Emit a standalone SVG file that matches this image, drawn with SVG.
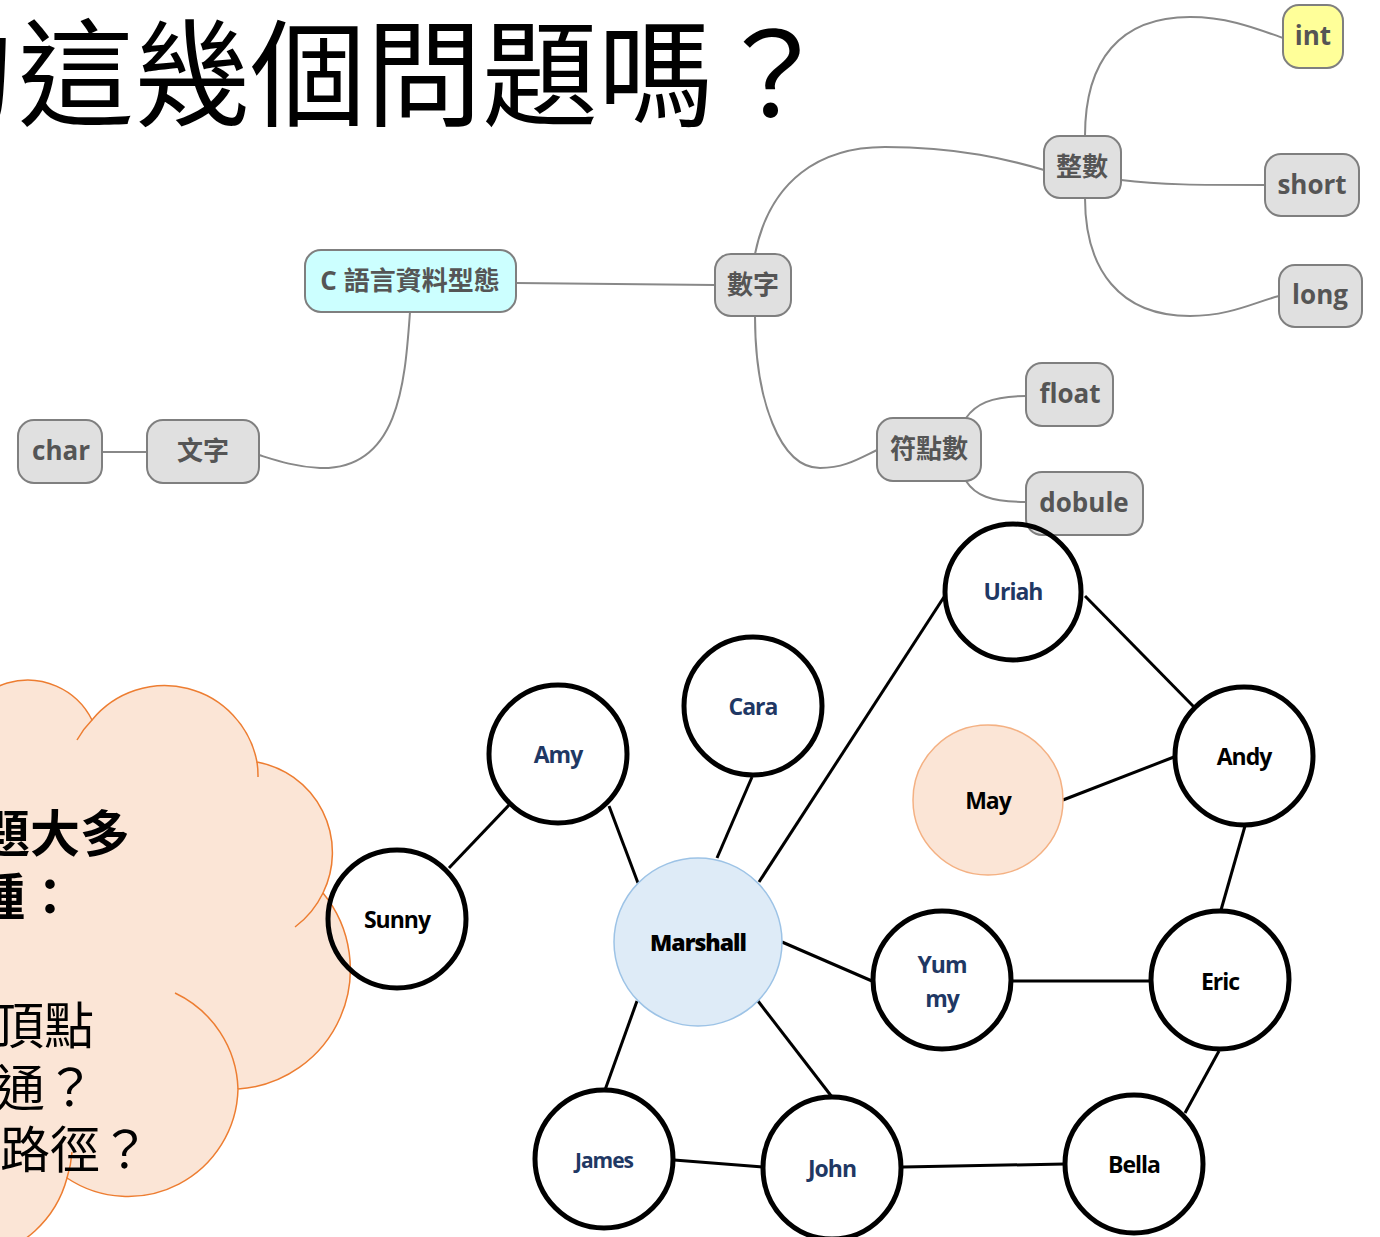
<svg xmlns="http://www.w3.org/2000/svg" width="1380" height="1237" viewBox="0 0 1380 1237">
<style>
.title{font-family:"Noto Sans CJK TC","Noto Sans CJK SC",sans-serif;font-size:116px;fill:#000}
.cb{font-family:"Noto Sans CJK TC","Noto Sans CJK SC",sans-serif;font-size:50px;font-weight:bold;fill:#000}
.cr{font-family:"Noto Sans CJK TC","Noto Sans CJK SC",sans-serif;font-size:50px;fill:#000}
.mm rect{fill:#e0e0e0;stroke:#7f7f7f;stroke-width:2}
.mm text{font-family:"Open Sans","Noto Sans CJK TC",sans-serif;font-size:26px;font-weight:bold;fill:#555;text-anchor:middle}
.mmc{fill:none;stroke:#888;stroke-width:2}
.gc{fill:none;stroke:#000;stroke-width:5}
.ge{stroke:#000;stroke-width:3;fill:none}
.gl{font-family:"Open Sans","Liberation Sans",sans-serif;font-size:23px;font-weight:bold;letter-spacing:-1px;text-anchor:middle;fill:#000}
.blue{fill:#1f3864}
.cloud{fill:#fbe5d6;stroke:#ed7d31;stroke-width:1.5}
.tail{fill:none;stroke:#ed7d31;stroke-width:1.5}
</style>

<text class="title" x="-102" y="117">的</text>
<text class="title" x="18" y="117">這幾個問題嗎？</text>

<g id="mindmap-connectors">
<path class="mmc" d="M516,283 L715,285"/>
<path class="mmc" d="M410,312 C405,380 400,470 320,468 C295,467 275,460 259,455"/>
<path class="mmc" d="M147,452 L102,452"/>
<path class="mmc" d="M755,254 C770,180 820,147 885,147 C960,147 1010,160 1044,170"/>
<path class="mmc" d="M755,316 C755,400 780,468 820,468 C845,468 860,458 877,450"/>
<path class="mmc" d="M1085,136 C1085,60 1120,17 1190,17 C1230,17 1260,30 1283,38"/>
<path class="mmc" d="M1121,180 C1160,185 1200,185 1265,185"/>
<path class="mmc" d="M1085,198 C1085,270 1120,316 1190,316 C1230,316 1255,302 1279,296"/>
<path class="mmc" d="M966,418 C975,405 990,396 1026,396"/>
<path class="mmc" d="M966,481 C975,495 990,502 1026,502"/>
</g>

<g class="mm">
<g id="mm-root"><rect x="305" y="250" width="211" height="62" rx="16" style="fill:#ccffff"/><text x="410" y="290">C 語言資料型態</text></g>
<g id="mm-num"><rect x="715" y="254" width="76" height="62" rx="16"/><text x="753" y="294">數字</text></g>
<g id="mm-int-group"><rect x="1044" y="136" width="77" height="62" rx="16"/><text x="1082" y="176">整數</text></g>
<g id="mm-int"><rect x="1283" y="5" width="60" height="63" rx="16" style="fill:#ffff99"/><text x="1313" y="45">int</text></g>
<g id="mm-short"><rect x="1265" y="154" width="94" height="62" rx="16"/><text x="1312" y="194">short</text></g>
<g id="mm-long"><rect x="1279" y="265" width="83" height="62" rx="16"/><text x="1320" y="304">long</text></g>
<g id="mm-text"><rect x="147" y="420" width="112" height="63" rx="16"/><text x="203" y="460">文字</text></g>
<g id="mm-char"><rect x="18" y="420" width="84" height="63" rx="16"/><text x="61" y="460">char</text></g>
<g id="mm-float-group"><rect x="877" y="418" width="104" height="63" rx="16"/><text x="929" y="458">符點數</text></g>
<g id="mm-float"><rect x="1026" y="363" width="87" height="63" rx="16"/><text x="1070" y="403">float</text></g>
<g id="mm-double"><rect x="1026" y="472" width="117" height="63" rx="16"/><text x="1084" y="512">dobule</text></g>
</g>

<g id="cloud">
<path class="cloud" d="M-44,760 A72,72 0 0 1 92,720 A94,94 0 0 1 257,762 A92,92 0 0 1 323,893 A120,120 0 0 1 238,1089 A110,110 0 0 1 67,1178 A110,110 0 0 1 -20,1258 L-60,1258 L-60,760 Z"/>
<path class="tail" d="M77,740 A94,94 0 0 1 92,720"/>
<path class="tail" d="M257,762 A94,94 0 0 1 258,777"/>
<path class="tail" d="M323,893 A92,92 0 0 1 295,927"/>
<path class="tail" d="M175,993 A110,110 0 0 1 238,1089"/>
<path class="tail" d="M72,1152 A110,110 0 0 1 67,1178"/>
<text class="cb" text-anchor="end" x="130" y="852">問題大多</text>
<text class="cb" text-anchor="end" x="75" y="915">兩種：</text>
<text class="cr" text-anchor="end" x="94" y="1044">兩頂點</text>
<text class="cr" text-anchor="end" x="95" y="1106">連通？</text>
<text class="cr" text-anchor="end" x="150" y="1168">最短路徑？</text>
</g>

<g id="graph-edges">
<line class="ge" x1="449" y1="868" x2="509" y2="805"/>
<line class="ge" x1="609" y1="806" x2="638" y2="883"/>
<line class="ge" x1="752" y1="777" x2="717" y2="858"/>
<line class="ge" x1="759" y1="882" x2="944" y2="597"/>
<line class="ge" x1="1085" y1="596" x2="1194" y2="707"/>
<line class="ge" x1="1063" y1="800" x2="1174" y2="757"/>
<line class="ge" x1="1245" y1="826" x2="1221" y2="910"/>
<line class="ge" x1="782" y1="942" x2="872" y2="981"/>
<line class="ge" x1="1012" y1="981" x2="1150" y2="981"/>
<line class="ge" x1="1219" y1="1051" x2="1185" y2="1113"/>
<line class="ge" x1="637" y1="1001" x2="605" y2="1090"/>
<line class="ge" x1="758" y1="1001" x2="832" y2="1097"/>
<line class="ge" x1="674" y1="1160" x2="763" y2="1167"/>
<line class="ge" x1="903" y1="1167" x2="1065" y2="1164"/>
</g>

<g id="n-uriah"><circle class="gc" cx="1013" cy="592" r="68"/><text class="gl blue" x="1013" y="600">Uriah</text></g>
<g id="n-cara"><circle class="gc" cx="753" cy="706" r="69"/><text class="gl blue" x="753" y="715">Cara</text></g>
<g id="n-amy"><circle class="gc" cx="558" cy="754" r="69"/><text class="gl blue" x="558" y="763">Amy</text></g>
<g id="n-andy"><circle class="gc" cx="1244" cy="756" r="69"/><text class="gl" x="1244" y="765">Andy</text></g>
<g id="n-may"><circle cx="988" cy="800" r="75" fill="#fbe5d6" stroke="#f4b183" stroke-width="1.5"/><text class="gl" x="988" y="809">May</text></g>
<g id="n-sunny"><circle class="gc" cx="397" cy="919" r="69"/><text class="gl" x="397" y="928">Sunny</text></g>
<g id="n-marshall"><circle cx="698" cy="942" r="84" fill="#deebf7" stroke="#9dc3e6" stroke-width="1.5"/><text class="gl" x="698" y="951" style="font-weight:900">Marshall</text></g>
<g id="n-yummy"><circle class="gc" cx="942" cy="980" r="69"/><text class="gl blue" x="942" y="973">Yum</text><text class="gl blue" x="942" y="1007">my</text></g>
<g id="n-eric"><circle class="gc" cx="1220" cy="980" r="69"/><text class="gl" x="1220" y="990">Eric</text></g>
<g id="n-james"><circle class="gc" cx="604" cy="1159" r="69"/><text class="gl blue" x="604" y="1168" style="font-size:21px">James</text></g>
<g id="n-john"><ellipse class="gc" cx="832" cy="1168" rx="69" ry="71"/><text class="gl blue" x="832" y="1177">John</text></g>
<g id="n-bella"><circle class="gc" cx="1134" cy="1164" r="69"/><text class="gl" x="1134" y="1173">Bella</text></g>
</svg>
